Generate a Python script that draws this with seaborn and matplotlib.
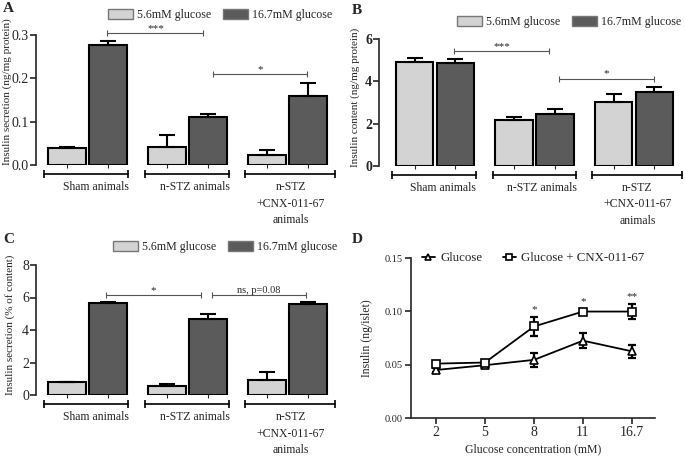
import numpy as np
import pandas as pd
import matplotlib
matplotlib.use("Agg")
import matplotlib.pyplot as plt
import seaborn as sns
from matplotlib.patches import Patch

sns.set_style("ticks")
plt.rcParams['font.family'] = ['Liberation Serif', 'DejaVu Serif']

# ---- data ----
groups = ['Sham animals', 'n-STZ animals', 'n-STZ\n+CNX-011-67\nanimals']
glucose_levels = ['5.6mM glucose', '16.7mM glucose']

a_low = [0.039, 0.041, 0.023]
a_low_err = [0.002, 0.028, 0.012]
a_high = [0.277, 0.110, 0.159]
a_high_err = [0.010, 0.008, 0.031]

b_low = [4.93, 2.19, 3.04]
b_low_err = [0.19, 0.12, 0.35]
b_high = [4.85, 2.46, 3.51]
b_high_err = [0.19, 0.25, 0.22]

c_low = [0.80, 0.55, 0.90]
c_low_err = [0.02, 0.12, 0.50]
c_high = [5.68, 4.68, 5.63]
c_high_err = [0.05, 0.28, 0.07]

conc_labels = ['2', '5', '8', '11', '16.7']
d_glucose = [0.045, 0.0495, 0.0545, 0.0725, 0.0625]
d_glucose_err = [0.002, 0.003, 0.0065, 0.007, 0.0063]
d_cnx = [0.051, 0.052, 0.0858, 0.0998, 0.0998]
d_cnx_err = [0.002, 0.002, 0.0085, 0.002, 0.0072]
d_stars = ['', '', '*', '*', '**']
series_names = ['Glucose', 'Glucose + CNX-011-67']

light = '#d3d3d3'
dark = '#5b5b5b'

W, H = 685, 457
fig = plt.figure(figsize=(W / 100, H / 100), dpi=100)


def px_axes(left, right, top, bottom):
    return fig.add_axes([left / W, 1 - bottom / H, (right - left) / W, (bottom - top) / H])


def bar_panel(ax, low, low_err, high, high_err, ylim, yticks, fmt, xlim, tickbold=False):
    df = pd.DataFrame({
        'group': groups * 2,
        'glucose': [glucose_levels[0]] * 3 + [glucose_levels[1]] * 3,
        'value': low + high,
    })
    sns.barplot(data=df, x='group', y='value', hue='glucose', order=groups,
                hue_order=glucose_levels, palette=[light, dark], errorbar=None,
                width=0.82, gap=0.08, edgecolor='black', linewidth=1.5,
                legend=False, ax=ax)
    pats = sorted(ax.patches, key=lambda p: p.get_x())
    xs = [p.get_x() + p.get_width() / 2 for p in pats]
    hs = [p.get_height() for p in pats]
    errs = [e for pair in zip(low_err, high_err) for e in pair]
    ax.errorbar(xs, hs, yerr=[np.zeros(len(errs)), errs], fmt='none', ecolor='black',
                elinewidth=1.5, capsize=6, capthick=1.5, zorder=1)
    ax.set_xlim(*xlim)
    ax.set_ylim(*ylim)
    ax.set_yticks(yticks)
    ax.set_yticklabels([fmt.format(t) for t in yticks], fontsize=10,
                       fontweight='bold' if tickbold else 'normal')
    ax.set_xticks(xs)
    ax.set_xticklabels([])
    ax.tick_params(axis='x', direction='inout', length=4, width=0.8)
    ax.tick_params(axis='y', direction='out', length=4, width=1.2, pad=1)
    ax.set_xlabel('')
    ax.set_ylabel('')
    for s in ['top', 'right', 'bottom']:
        ax.spines[s].set_visible(False)
    ax.spines['left'].set_linewidth(1.2)
    tr = ax.get_xaxis_transform()
    # group brackets under the axis
    for x0, x1 in [(-0.43, 0.41), (0.58, 1.42), (1.58, 2.48)]:
        ax.plot([x0, x1], [-0.07, -0.07], color='black', lw=1.2, transform=tr, clip_on=False)
        ax.plot([x0, x1], [-0.07, -0.07], ls='none', marker='|', ms=6, mew=1.2,
                color='black', transform=tr, clip_on=False)
    for i, (g, dx) in enumerate(zip(groups, [0.08, 0.075, 0.035])):
        ax.text(i + dx, -0.125, g, transform=tr, ha='center', va='top',
                fontsize=8.5, linespacing=1.5)


def sig(ax, x0, x1, y, label, fs=8):
    ax.plot([x0, x1], [y, y], color='#555555', lw=0.8, clip_on=False)
    ax.plot([x0, x1], [y, y], ls='none', marker='|', ms=4, mew=0.8, color='#555555',
            clip_on=False)
    ax.text((x0 + x1) / 2, y, label, ha='center', va='bottom', fontsize=fs)


def bar_legend(left, ycen):
    handles = [Patch(facecolor=light, edgecolor='#777777', lw=1),
               Patch(facecolor=dark, edgecolor='#777777', lw=1)]
    fig.legend(handles, glucose_levels, loc='center left',
               bbox_to_anchor=(left / W, 1 - ycen / H), ncol=2, frameon=False,
               fontsize=8.6, borderpad=0, borderaxespad=0, handlelength=2.1,
               handleheight=0.85, handletextpad=0.3, columnspacing=1.0)


# ---- A ----
axA = px_axes(36, 335, 35, 165)
bar_panel(axA, a_low, a_low_err, a_high, a_high_err, (0, 0.3),
          [0, 0.1, 0.2, 0.3], '{:.1f}', (-0.515, 2.475))
sig(axA, 0.2, 1.16, 0.305, '***')
sig(axA, 1.255, 2.195, 0.209, '*')
bar_legend(108, 15)
fig.text(7 / W, 1 - 92 / H, 'Insulin secretion (ng/mg protein)', rotation=90,
         ha='center', va='center', fontsize=8)
fig.text(3 / W, 1 - 2 / H, 'A', fontsize=11, fontweight='bold', va='top')

# ---- B ----
axB = px_axes(379, 684, 39, 166)
bar_panel(axB, b_low, b_low_err, b_high, b_high_err, (0, 6),
          [0, 2, 4, 6], '{:d}', (-0.563, 2.503), tickbold=True)
sig(axB, 0.19, 1.146, 5.43, '***')
sig(axB, 1.246, 2.2, 4.13, '*')
bar_legend(457, 22)
fig.text(355 / W, 1 - 97 / H, 'Insulin content (ng/mg protein)', rotation=90,
         ha='center', va='center', fontsize=8)
fig.text(352 / W, 1 - 4 / H, 'B', fontsize=11, fontweight='bold', va='top')

# ---- C ----
axC = px_axes(36, 335, 265, 395)
bar_panel(axC, c_low, c_low_err, c_high, c_high_err, (0, 8),
          [0, 2, 4, 6, 8], '{:d}', (-0.515, 2.475))
sig(axC, 0.185, 1.135, 6.15, '*')
sig(axC, 1.245, 2.185, 6.15, 'ns, p=0.08', fs=7.5)
bar_legend(113, 247)
fig.text(10 / W, 1 - 325 / H, 'Insulin secretion (% of content)', rotation=90,
         ha='center', va='center', fontsize=8)
fig.text(3 / W, 1 - 233 / H, 'C', fontsize=11, fontweight='bold', va='top')

# ---- D ----
axD = px_axes(411, 655, 258, 418)
pos = list(range(len(conc_labels)))
df_d = pd.DataFrame({
    'pos': pos * 2,
    'insulin': d_glucose + d_cnx,
    'series': [series_names[0]] * 5 + [series_names[1]] * 5,
})
axD.errorbar(pos, d_glucose, yerr=d_glucose_err, fmt='none', ecolor='black',
             elinewidth=1.6, capsize=3, capthick=1.6, zorder=1)
axD.errorbar(pos, d_cnx, yerr=d_cnx_err, fmt='none', ecolor='black',
             elinewidth=1.6, capsize=3, capthick=1.6, zorder=1)
sns.lineplot(data=df_d, x='pos', y='insulin', hue='series', style='series',
             hue_order=series_names, palette=['black', 'black'],
             markers={series_names[0]: '^', series_names[1]: 's'}, dashes=False,
             markerfacecolor='white', markeredgecolor='black', markeredgewidth=1.2,
             markersize=5.5, linewidth=1.3, ax=axD, zorder=3)
for p, s, v, e in zip(pos, d_stars, d_cnx, d_cnx_err):
    if s:
        axD.text(p, v + e + 0.003, s, ha='center', va='bottom', fontsize=8)
axD.set_xlim(-0.51, 4.47)
axD.set_ylim(0, 0.15)
axD.set_yticks([0, 0.05, 0.10, 0.15])
axD.set_yticklabels(['0.00', '0.05', '0.10', '0.15'], fontsize=7.5)
axD.set_xticks(pos)
axD.set_xticklabels(conc_labels, fontsize=10)
axD.tick_params(axis='both', direction='out', length=4, width=1.2, pad=2)
axD.set_xlabel('Glucose concentration (mM)', fontsize=8.5, labelpad=3)
axD.set_ylabel('')
for s in ['top', 'right']:
    axD.spines[s].set_visible(False)
axD.spines['left'].set_linewidth(1.2)
axD.spines['bottom'].set_linewidth(1.2)
h, l = axD.get_legend_handles_labels()
axD.legend(h, l, loc='center left', bbox_to_anchor=(0.045, 1.0), ncol=2, frameon=False,
           fontsize=9.3, borderpad=0, borderaxespad=0, handlelength=1.0,
           handletextpad=0.4, columnspacing=1.6, markerscale=0.85)
fig.text(367 / W, 1 - 338 / H, 'Insulin (ng/islet)', rotation=90,
         ha='center', va='center', fontsize=8.5)
fig.text(352 / W, 1 - 233 / H, 'D', fontsize=11, fontweight='bold', va='top')

fig.savefig('out.png', dpi=100)
